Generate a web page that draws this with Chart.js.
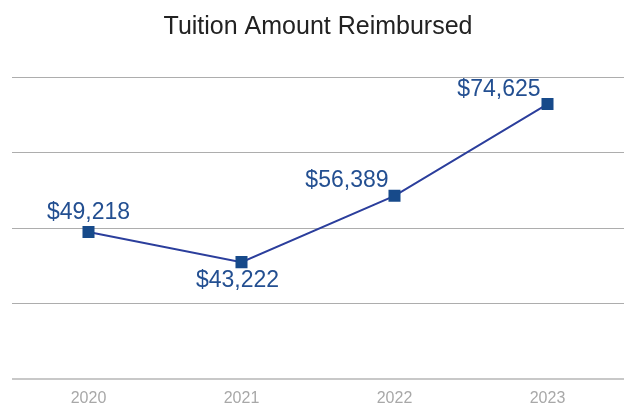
<!DOCTYPE html>
<html>
<head>
<meta charset="utf-8">
<script src="https://cdn.jsdelivr.net/npm/chart.js@4/dist/chart.umd.min.js"></script>
<style>
  html, body { margin: 0; padding: 0; background: #fff; overflow: hidden; }
  canvas { display: block; }
</style>
</head>
<body>
<canvas id="chart" width="624" height="405"></canvas>
<script>
// data
const years = ['2020', '2021', '2022', '2023'];
const reimbursed = [49218, 43222, 56389, 74625];
const yMin = 20000;
const yMax = 80000;
const yStep = 15000;

// where each value label sits next to its point (dx, dy, align)
const labelPlace = [
  { dx: 0, dy: -19, align: 'center' },
  { dx: -4, dy: 19, align: 'center' },
  { dx: -6, dy: -15, align: 'right' },
  { dx: -7, dy: -14, align: 'right' }
];

const money = v => '$' + v.toLocaleString('en-US');

// draws the value labels from the points' positions
const valueLabels = {
  id: 'valueLabels',
  afterDatasetsDraw(chart) {
    const ctx = chart.ctx;
    const meta = chart.getDatasetMeta(0);
    ctx.save();
    ctx.font = '23px "Liberation Sans", Arial, sans-serif';
    ctx.fillStyle = '#234f91';
    ctx.textBaseline = 'middle';
    meta.data.forEach((pt, i) => {
      const p = labelPlace[i];
      ctx.textAlign = p.align;
      ctx.fillText(money(reimbursed[i]), pt.x + p.dx, pt.y + p.dy);
    });
    ctx.restore();
  }
};

new Chart(document.getElementById('chart'), {
  type: 'line',
  data: {
    labels: years,
    datasets: [{
      data: reimbursed,
      borderColor: '#2b3e9c',
      borderWidth: 2,
      pointStyle: 'rect',
      pointRadius: 8.5,
      pointBorderWidth: 0,
      pointBackgroundColor: '#174a8a',
      pointBorderColor: '#174a8a',
      tension: 0
    }]
  },
  options: {
    responsive: false,
    animation: false,
    layout: { autoPadding: false, padding: { left: 12, right: 0, top: 0, bottom: 0 } },
    plugins: {
      legend: { display: false },
      tooltip: { enabled: false },
      title: {
        display: true,
        text: 'Tuition Amount Reimbursed',
        color: '#222',
        font: { family: '"Liberation Sans", Arial, sans-serif', size: 25, weight: 'normal' },
        padding: { top: 12, bottom: 35 }
      }
    },
    scales: {
      x: {
        offset: true,
        grid: { display: false, drawTicks: false },
        border: { display: false },
        ticks: {
          color: '#a8a8a8',
          padding: 10,
          font: { family: '"Liberation Sans", Arial, sans-serif', size: 16 }
        },
        afterFit: scale => { scale.height = 26; }
      },
      y: {
        min: yMin,
        max: yMax,
        grid: {
          drawTicks: false,
          color: c => c.tick.value === yMin ? '#c8c8c8' : '#adadad',
          lineWidth: c => c.tick.value === yMin ? 2 : 1
        },
        border: { display: false },
        ticks: { display: false, stepSize: yStep }
      }
    }
  },
  plugins: [valueLabels]
});
</script>
</body>
</html>
